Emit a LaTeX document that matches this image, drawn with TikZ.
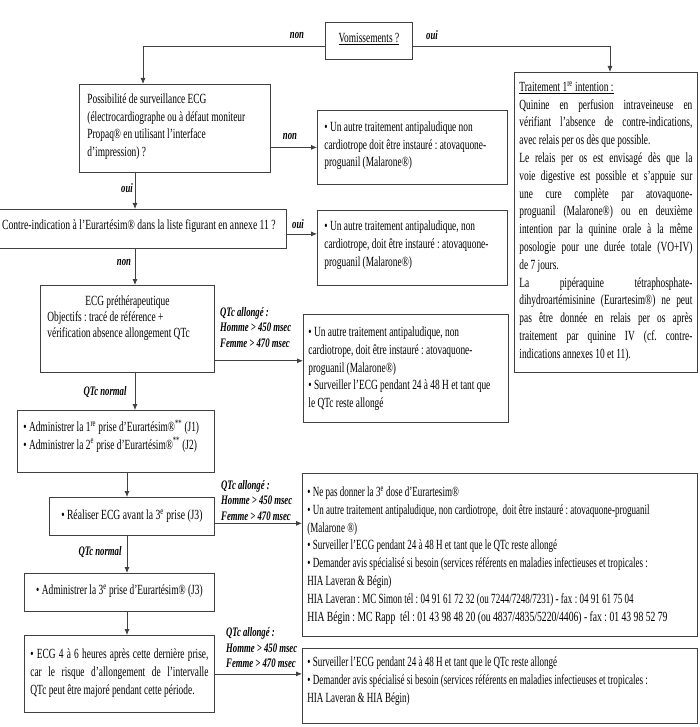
\documentclass[tikz,border=0pt]{standalone}
\usepackage{fontspec}
\setmainfont{Liberation Serif}[FakeStretch=0.67]
\newfontfamily\widefont{Liberation Serif}[FakeStretch=0.69]
\newfontfamily\longfont{Liberation Serif}[FakeStretch=0.645]
\usetikzlibrary{arrows.meta}
\frenchspacing

\tikzset{
  box/.style={draw=black!75, line width=0.8pt, anchor=north west, inner ysep=0pt, inner xsep=6pt,
    align=flush left, font=\fontsize{14}{17.8}\selectfont},
  altbox/.style={box, inner xsep=7pt},
  longbox/.style={box, inner xsep=5pt, font=\fontsize{14}{17.8}\selectfont\longfont},
  lab/.style={font=\fontsize{13}{15.5}\selectfont\bfseries\itshape, inner sep=0pt, align=flush left},
  arr/.style={draw=black!75, line width=0.8pt, -{Latex[length=6pt,width=5pt]}},
}

\begin{document}
\begin{tikzpicture}[x=1pt,y=-1pt]
\path[use as bounding box, clip] (0,0) rectangle (700,727);
% spine positions
\coordinate (xa) at (143,0);
\coordinate (xb) at (610,0);
\coordinate (xc) at (135,0);
\coordinate (xd) at (127,0);

\node[box, align=center, minimum width=87pt, text height=20pt, text depth=17pt] (vom) at (325,22) {\underline{Vomissements ?}};
\node[box, text width=175pt, inner xsep=8pt, text height=19pt, text depth=69pt] (poss) at (79,84)
  {Possibilité de surveillance ECG\\(électrocardiographe ou à défaut moniteur\\Propaq® en utilisant l’interface\\d’impression) ?};
\node[altbox, text width=176pt, text height=21pt, text depth=53pt] (alt1) at (317,110)
  {• Un autre traitement antipaludique non\\cardiotrope doit être instauré : atovaquone-\\proguanil (Malarone®)};
\node[box, align=center, minimum width=295pt, text height=20pt, text depth=19pt,
  font=\fontsize{14}{17.8}\selectfont\widefont] (contre) at (-9,209)
  {Contre-indication à l’Eurartésim® dans la liste figurant en annexe 11 ?};
\node[altbox, text width=176pt, text height=20pt, text depth=55pt] (alt2) at (317,210)
  {• Un autre traitement antipaludique, non\\cardiotrope, doit être instauré : atovaquone-\\proguanil (Malarone®)};
\node[box, text width=160pt, inner xsep=7pt, text height=20pt, text depth=67pt,
  font=\fontsize{14}{16}\selectfont] (ecg0) at (40,285)
  {\makebox[160pt]{ECG préthérapeutique}\\Objectifs : tracé de référence +\\vérification absence allongement QTc};
\node[altbox, text width=195pt, inner xsep=5pt, text height=22pt, text depth=86pt] (alt3) at (303,314)
  {• Un autre traitement antipaludique, non\\cardiotrope, doit être instauré : atovaquone-\\proguanil (Malarone®)\\• Surveiller l’ECG pendant 24 à 48 H et tant que\\le QTc reste allongé};
\node[box, align=justify, text width=173pt, inner xsep=5pt, text height=19pt, text depth=281pt] (trait) at (514,72)
  {\underline{Traitement 1\textsuperscript{re} intention :}\par
  Quinine en perfusion intraveineuse en\linebreak
  vérifiant l’absence de contre-indications,\linebreak
  avec relais per os dès que possible.\par
  Le relais per os est envisagé dès que la\linebreak
  voie digestive est possible et s’appuie sur\linebreak
  une cure complète par atovaquone-\linebreak
  proguanil (Malarone®) ou en deuxième\linebreak
  intention par la quinine orale à la même\linebreak
  posologie pour une durée totale (VO+IV)\linebreak
  de 7 jours.\par
  La pipéraquine tétraphosphate-\linebreak
  dihydroartémisinine (Eurartesim®) ne peut\linebreak
  pas être donnée en relais per os après\linebreak
  traitement par quinine IV (cf. contre-\linebreak
  indications annexes 10 et 11).};
\node[box, text width=185pt, text height=21pt, text depth=41pt] (adm12) at (17,410)
  {• Administrer la 1\textsuperscript{re} prise d’Eurartésim®\textsuperscript{**} (J1)\\• Administrer la 2\textsuperscript{e} prise d’Eurartésim®\textsuperscript{**} (J2)};
\node[box, align=center, minimum width=165pt, text height=22pt, text depth=16pt,
  font=\fontsize{14}{17.8}\selectfont\widefont] (real) at (49,497)
  {• Réaliser ECG avant la 3\textsuperscript{e} prise (J3)};
\node[longbox, text width=385pt, text height=23pt, text depth=140pt] (alt4) at (302,473)
  {• Ne pas donner la 3\textsuperscript{e} dose d’Eurartesim®\\
  • Un autre traitement antipaludique, non cardiotrope,~ doit être instauré : atovaquone-proguanil\\
  (Malarone ®)\\
  • Surveiller l’ECG pendant 24 à 48 H et tant que le QTc reste allongé\\
  • Demander avis spécialisé si besoin (services référents en maladies infectieuses et tropicales :\\
  HIA Laveran \& Bégin)\\
  HIA Laveran : MC Simon tél : 04 91 61 72 32 (ou 7244/7248/7231) - fax : 04 91 61 75 04\\
  {\widefont HIA Bégin : MC Rapp~ tél : 01 43 98 48 20 (ou 4837/4835/5220/4406) - fax : 01 43 98 52 79}};
\node[box, align=center, minimum width=190pt, text height=21pt, text depth=17pt] (adm3) at (24,573)
  {• Administrer la 3\textsuperscript{e} prise d’Eurartésim® (J3)};
\node[box, align=justify, text width=178pt, text height=23pt, text depth=54pt] (ecg46) at (24,635)
  {• ECG 4 à 6 heures après cette dernière prise,\linebreak
  car le risque d'allongement de l'intervalle\linebreak
  QTc peut être majoré pendant cette période.};
\node[longbox, text width=385pt, text height=18pt, text depth=57pt] (alt5) at (302,648)
  {• Surveiller l’ECG pendant 24 à 48 H et tant que le QTc reste allongé\\
  • Demander avis spécialisé si besoin (services référents en maladies infectieuses et tropicales :\\
  HIA Laveran \& HIA Bégin)};

% labels
\node[lab] (non1) at (297,36) {non};
\node[lab] (oui1) at (432,35) {oui};
\node[lab] (non2) at (290,137) {non};
\node[lab] (oui2) at (127,188) {oui};
\node[lab] (oui3) at (298,224) {oui};
\node[lab] (non3) at (124,262) {non};
\node[lab, anchor=west] (long1) at (220,327.5) {QTc allongé :\\Homme > 450 msec\\Femme > 470 msec};
\node[lab] (norm1) at (105,392) {QTc normal};
\node[lab, anchor=west] (long2) at (221,500.5) {QTc allongé :\\Homme > 450 msec\\Femme > 470 msec};
\node[lab] (norm2) at (100,552) {QTc normal};
\node[lab, anchor=west] (long3) at (226,648) {QTc allongé :\\Homme > 450 msec\\Femme > 470 msec};

% connectors
\draw[arr] ([yshift=-6pt]vom.west) -| (poss.north -| xa);
\draw[arr] ([yshift=-6pt]vom.east) -| (trait.north -| xb);
\draw[arr] (alt1.west -| poss.east) -- (alt1.west);
\draw[arr] (poss.south -| xc) -- (contre.north -| xc);
\draw[arr] ([yshift=-5pt]contre.east) -- ([yshift=-5pt]contre.east -| alt2.west);
\draw[arr] (contre.south -| xc) -- (ecg0.north -| xc);
\draw[arr] ([yshift=12pt]ecg0.south east) -- ([yshift=12pt]ecg0.south east -| alt3.west);
\draw[arr] (ecg0.south -| xc) -- (adm12.north -| xc);
\draw[arr] (adm12.south -| xd) -- (real.north -| xd);
\draw[arr] ([yshift=-7pt]real.east) -- ([yshift=-7pt]real.east -| alt4.west);
\draw[arr] (real.south -| xd) -- (adm3.north -| xd);
\draw[arr] (adm3.south -| xd) -- (ecg46.north -| xd);
\draw[arr] (ecg46.east) -- (ecg46.east -| alt5.west);
\end{tikzpicture}
\end{document}
